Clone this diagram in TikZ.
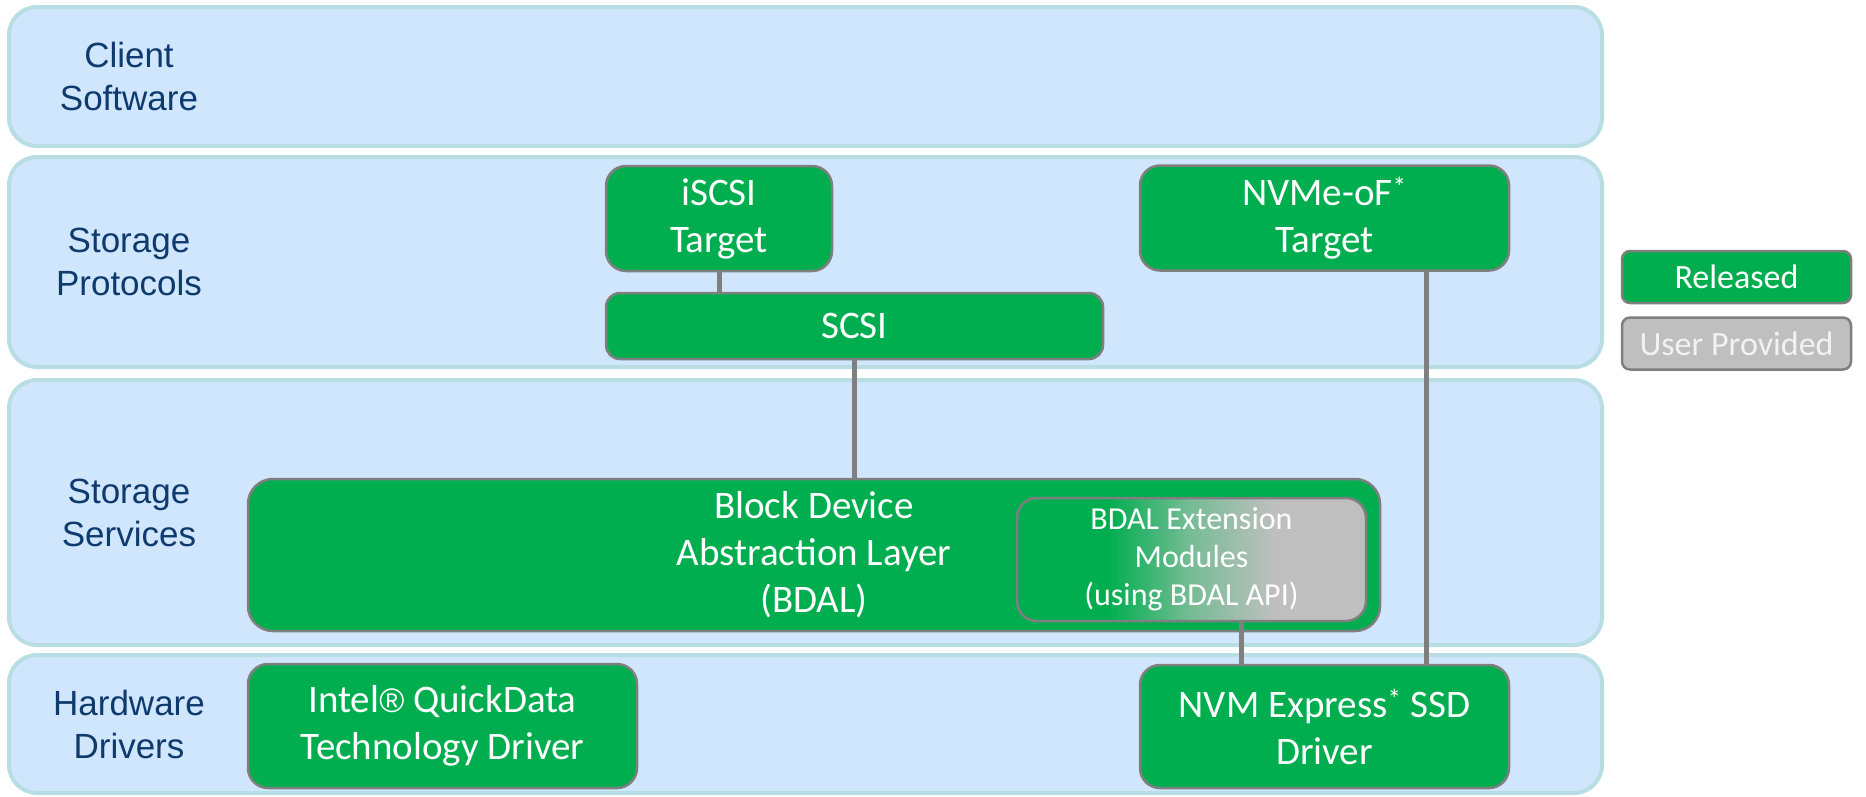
\documentclass[tikz,border=0pt]{standalone}
\usepackage{fontspec}
\setmainfont{Carlito}
\newfontfamily\arialfont{Liberation Sans}
\usetikzlibrary{positioning}

\definecolor{relgreen}{RGB}{0,174,79}
\definecolor{usergray}{RGB}{191,191,191}
\definecolor{fademid}{RGB}{120,188,150}
\definecolor{boxline}{RGB}{127,127,127}
\definecolor{bandfill}{RGB}{208,230,252}
\definecolor{bandline}{RGB}{184,222,227}
\definecolor{labelblue}{RGB}{14,58,110}

% green on the left, grey on the right (the middle half spans the box)
\pgfdeclarehorizontalshading{extfade}{100bp}{color(0bp)=(relgreen); color(38bp)=(relgreen);
  color(50bp)=(fademid); color(62bp)=(usergray); color(100bp)=(usergray)}

\begin{document}
\begin{tikzpicture}[x=1pt, y=-1pt,
    layer/.style={rectangle, draw=bandline, line width=4pt, fill=bandfill,
                  rounded corners=28pt, minimum width=1593pt},
    layerlabel/.style={font=\arialfont\fontsize{35}{43}\selectfont, text=labelblue, align=center},
    relbox/.style={rectangle, draw=boxline, line width=2.5pt, fill=relgreen, text=white,
                   rounded corners=20pt, align=center, font=\fontsize{39}{47}\selectfont},
    extbox/.style={relbox, shading=extfade, font=\fontsize{32}{38}\selectfont},
    keybox/.style={relbox, rounded corners=8pt, minimum width=229pt, minimum height=52pt,
                   font=\fontsize{34}{40}\selectfont},
    link/.style={draw=boxline, line width=5pt}
]
    \useasboundingbox (0,0) rectangle (1866,796);

    % layers
    \node[layer, minimum height=139pt] (client) at (805.5,76.5) {};
    \node[layer, minimum height=210pt] (proto) at (805.5,262) {};
    \node[layer, minimum height=265pt] (serv) at (805.5,512.5) {};
    \node[layer, minimum height=138pt] (hw) at (805.5,724) {};

    \node[layerlabel] (clientlbl) at (129,76.5) {Client\\Software};
    \node[layerlabel] (protolbl) at (129,262) {Storage\\Protocols};
    \node[layerlabel] (servlbl) at (129,512.5) {Storage\\Services};
    \node[layerlabel] (hwlbl) at (129,724) {Hardware\\Drivers};

    % components
    \node[relbox, minimum width=226pt, minimum height=105pt] (iscsi) at (719,218.5) {iSCSI\\Target};
    \node[relbox, minimum width=497pt, minimum height=66pt, rounded corners=14pt] (scsi) at (854.5,326) {SCSI};
    \node[relbox, minimum width=369pt, minimum height=105pt] (nvmeof) at (1324.5,218) {NVMe-oF\textsuperscript{*}\\Target};
    \node[relbox, minimum width=1132pt, minimum height=152pt, rounded corners=25pt] (bdal) at (814,555)
        {Block Device\\Abstraction Layer\\(BDAL)};
    \node[extbox, minimum width=349pt, minimum height=123pt] (ext) at (1191.5,559.5)
        {BDAL Extension\\Modules\\(using BDAL API)};
    \node[relbox, minimum width=389pt, minimum height=124pt] (intel) at (442.5,726)
        {Intel{\arialfont\fontsize{34}{47}\selectfont ®} QuickData\\Technology Driver};
    \node[relbox, minimum width=369pt, minimum height=123pt] (nvme) at (1324.5,726.5)
        {NVM Express\textsuperscript{*} SSD\\Driver};

    \draw[link] (iscsi) -- (iscsi |- scsi.north);
    \draw[link] (scsi) -- (scsi |- bdal.north);
    \draw[link] ([xshift=101.5pt]nvmeof.south) -- ([xshift=101.5pt]nvme.north);
    \draw[link] ([xshift=49.5pt]ext.south) -- ([xshift=49.5pt]ext.south |- nvme.north);

    % key
    \node[keybox] (released) at (1736.5,277) {Released};
    \node[keybox, fill=usergray, text=white!95!black, below=12pt of released] (userprov) {User Provided};
\end{tikzpicture}
\end{document}
